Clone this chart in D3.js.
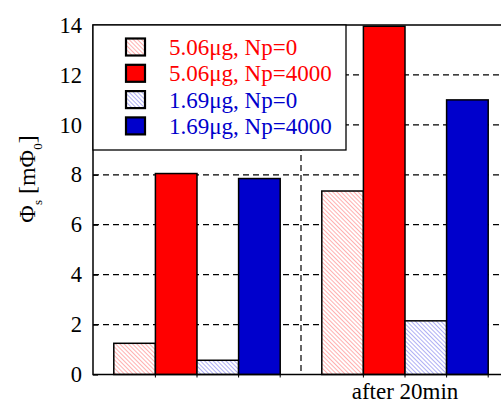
<!DOCTYPE html>
<html>
<head>
<meta charset="utf-8">
<script src="https://cdn.jsdelivr.net/npm/d3@7"></script>
<style>
  html, body { margin: 0; padding: 0; background: #fff; }
  svg { display: block; font-family: "Liberation Serif", "Times New Roman", serif; }
</style>
</head>
<body>
<div id="chart"></div>
<script>
// data
const groups = ["", "after 20min"];
const seriesNames = ["5.06\u03bcg, Np=0", "5.06\u03bcg, Np=4000", "1.69\u03bcg, Np=0", "1.69\u03bcg, Np=4000"];
const series1 = [1.25, 7.35];   // 5.06ug, Np=0
const series2 = [8.05, 13.95];  // 5.06ug, Np=4000
const series3 = [0.57, 2.15];   // 1.69ug, Np=0
const series4 = [7.85, 11.0];   // 1.69ug, Np=4000
const yTicks = [0, 2, 4, 6, 8, 10, 12, 14];

function chart() {
    const width = 501, height = 405;
    const left = 93, right = 509, top = 25, bottom = 374.5;
    const allSeries = [series1, series2, series3, series4];

    const svg = d3.create("svg")
        .attr("width", width)
        .attr("height", height);

    const defs = svg.append("defs");
    // hatch patterns for the Np=0 bars
    function hatch(id, color) {
        const p = defs.append("pattern")
            .attr("id", id)
            .attr("patternUnits", "userSpaceOnUse")
            .attr("width", 3).attr("height", 3)
            .attr("patternTransform", "rotate(-45)");
        p.append("rect").attr("width", 3).attr("height", 3).attr("fill", "#fff");
        p.append("line")
            .attr("x1", 0).attr("y1", 0).attr("x2", 0).attr("y2", 3)
            .attr("stroke", color).attr("stroke-width", 1.4);
    }
    hatch("hatchRed", "#ff8e8e");
    hatch("hatchBlue", "#8c8cf0");

    const fills = ["url(#hatchRed)", "#ff0000", "url(#hatchBlue)", "#0000cc"];
    const textColors = ["#ff0000", "#ff0000", "#0000cc", "#0000cc"];

    const x = d3.scaleBand().domain(groups).range([left, right]);
    const xs = d3.scaleBand().domain(d3.range(seriesNames.length))
        .range([0, x.bandwidth()]).paddingInner(0).paddingOuter(0.5);
    const y = d3.scaleLinear().domain([0, 14]).range([bottom, top]);

    // dashed grid
    svg.append("g")
        .selectAll("line")
        .data(yTicks.filter(d => d > 0 && d < 14))
        .join("line")
        .attr("x1", left).attr("x2", right)
        .attr("y1", d => y(d)).attr("y2", d => y(d))
        .attr("stroke", "#000").attr("stroke-width", 1.2)
        .attr("stroke-dasharray", "6,4");

    svg.append("line")
        .attr("x1", x(groups[1])).attr("x2", x(groups[1]))
        .attr("y1", top).attr("y2", bottom)
        .attr("stroke", "#000").attr("stroke-width", 1.2)
        .attr("stroke-dasharray", "6,4");

    // bars
    const g = svg.append("g");
    allSeries.forEach((vals, si) => {
        g.append("g")
            .selectAll("rect")
            .data(vals)
            .join("rect")
            .attr("x", (d, i) => x(groups[i]) + xs(si))
            .attr("y", d => y(d))
            .attr("width", xs.bandwidth())
            .attr("height", d => y(0) - y(d))
            .attr("fill", fills[si])
            .attr("stroke", "#000")
            .attr("stroke-width", 1.5);
    });

    // small ticks between bars
    const tickXs = [];
    groups.forEach(gname => {
        for (let k = 1; k <= seriesNames.length; k++) tickXs.push(x(gname) + xs(k - 1) + xs.bandwidth());
    });
    svg.append("g")
        .selectAll("line")
        .data(tickXs)
        .join("line")
        .attr("x1", d => d).attr("x2", d => d)
        .attr("y1", bottom).attr("y2", bottom + 3)
        .attr("stroke", "#000").attr("stroke-width", 1);

    // frame
    svg.append("rect")
        .attr("x", left).attr("y", top)
        .attr("width", right - left).attr("height", bottom - top)
        .attr("fill", "none").attr("stroke", "#000").attr("stroke-width", 1.5);

    // y axis
    const yAxis = svg.append("g")
        .attr("transform", `translate(${left},0)`)
        .call(d3.axisLeft(y).tickValues(yTicks).tickSize(-5).tickPadding(11));
    yAxis.select(".domain").remove();
    yAxis.selectAll(".tick line").attr("stroke-width", 1.2);
    yAxis.selectAll("text")
        .attr("font-family", "Liberation Serif, serif")
        .attr("font-size", 22.5)
        .attr("fill", "#000");

    // x labels
    svg.append("g")
        .selectAll("text")
        .data(groups)
        .join("text")
        .attr("x", d => x(d) + x.bandwidth() / 2)
        .attr("y", 399)
        .attr("text-anchor", "middle")
        .attr("font-size", 23)
        .text(d => d);

    // y label
    const yl = svg.append("text")
        .attr("transform", "translate(35,179) rotate(-90)")
        .attr("text-anchor", "middle")
        .attr("font-size", 24);
    yl.append("tspan").text("\u03a6");
    yl.append("tspan").attr("font-size", 13).attr("dy", 7).text("s");
    yl.append("tspan").attr("dy", -7).text(" [m\u03a6");
    yl.append("tspan").attr("font-size", 13).attr("dy", 7).text("0");
    yl.append("tspan").attr("dy", -7).text("]");

    // legend
    const lg = svg.append("g");
    lg.append("rect")
        .attr("x", left).attr("y", top)
        .attr("width", 346 - left).attr("height", 150 - top)
        .attr("fill", "#fff").attr("stroke", "#000").attr("stroke-width", 1.3);
    const row = lg.selectAll("g.row")
        .data(seriesNames)
        .join("g")
        .attr("class", "row")
        .attr("transform", (d, i) => `translate(0,${47 + i * 26.3})`);
    row.append("rect")
        .attr("x", 126).attr("y", -8.5)
        .attr("width", 19).attr("height", 17)
        .attr("fill", (d, i) => fills[i])
        .attr("stroke", "#000").attr("stroke-width", 2.2);
    row.append("text")
        .attr("x", 169).attr("y", 8)
        .attr("font-size", 23)
        .attr("fill", (d, i) => textColors[i])
        .text(d => d);

    return svg.node();
}

document.getElementById("chart").appendChild(chart());
</script>
</body>
</html>
